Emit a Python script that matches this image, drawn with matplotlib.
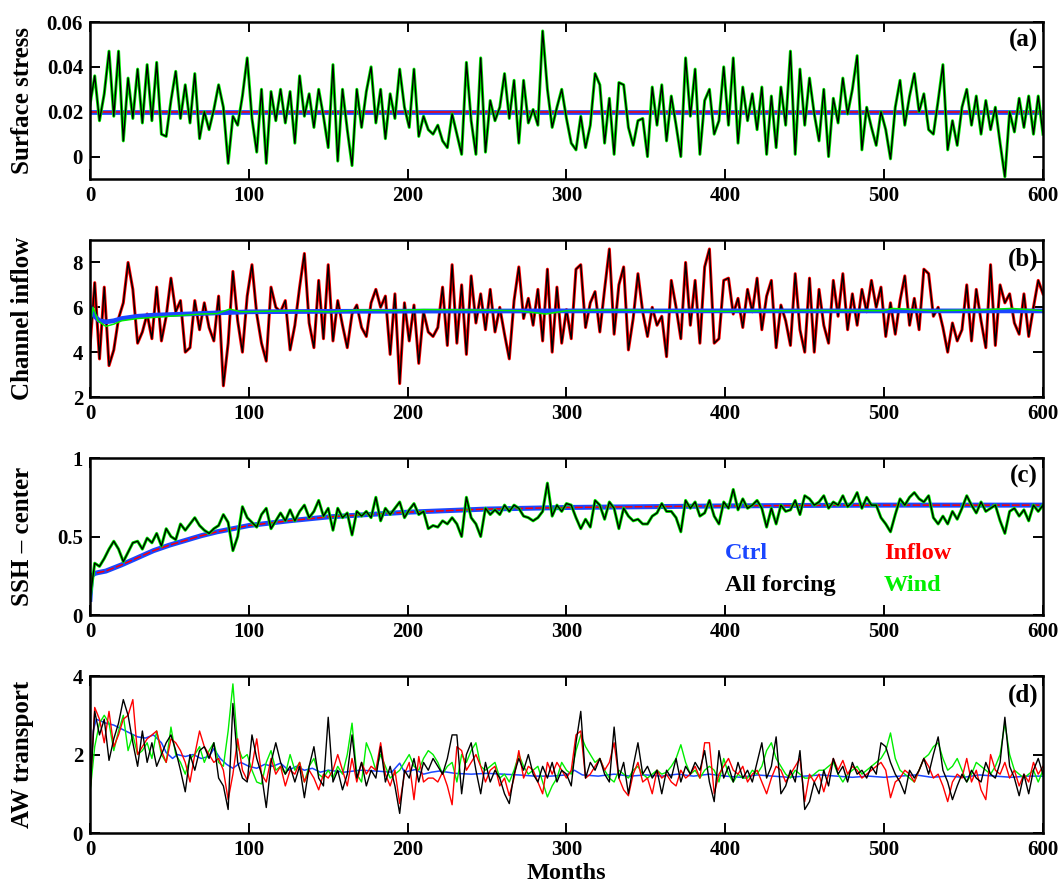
import numpy as np
import matplotlib
matplotlib.use('Agg')
import matplotlib.pyplot as plt

plt.rcParams['font.family'] = ['Liberation Serif', 'DejaVu Serif']
plt.rcParams['font.weight'] = 'bold'

# monthly samples every 3 months, 0..600
months = np.arange(0, 601, 3)

# --- (a) surface stress: wind and all forcing runs share the same forcing ---
stress_noisy = [
    0.023, 0.036, 0.016, 0.028, 0.047, 0.018, 0.047, 0.007, 0.035, 0.017,
    0.039, 0.015, 0.041, 0.016, 0.042, 0.010, 0.009, 0.025, 0.038, 0.017,
    0.032, 0.015, 0.037, 0.008, 0.020, 0.012, 0.021, 0.032, 0.022, -0.003,
    0.018, 0.014, 0.027, 0.044, 0.017, 0.002, 0.030, -0.003, 0.029, 0.016,
    0.030, 0.015, 0.029, 0.006, 0.036, 0.018, 0.028, 0.013, 0.030, 0.018,
    0.004, 0.041, -0.002, 0.030, 0.012, -0.004, 0.030, 0.013, 0.029, 0.040,
    0.015, 0.030, 0.008, 0.028, 0.017, 0.039, 0.022, 0.013, 0.039, 0.009,
    0.018, 0.012, 0.010, 0.014, 0.007, 0.004, 0.019, 0.010, 0.001, 0.042,
    0.016, 0.001, 0.044, 0.002, 0.025, 0.016, 0.022, 0.037, 0.017, 0.034,
    0.006, 0.034, 0.015, 0.021, 0.014, 0.056, 0.030, 0.013, 0.022, 0.030,
    0.017, 0.006, 0.003, 0.018, 0.004, 0.014, 0.037, 0.032, 0.006, 0.026,
    0.001, 0.033, 0.032, 0.013, 0.005, 0.016, 0.017, 0.000, 0.031, 0.014,
    0.032, 0.007, 0.027, 0.014, 0.000, 0.044, 0.018, 0.039, 0.001, 0.025,
    0.030, 0.010, 0.016, 0.040, 0.014, 0.044, 0.006, 0.031, 0.016, 0.028,
    0.012, 0.031, 0.001, 0.027, 0.004, 0.031, 0.014, 0.047, 0.001, 0.039,
    0.014, 0.035, 0.019, 0.007, 0.030, 0.000, 0.026, 0.015, 0.035, 0.019,
    0.030, 0.045, 0.003, 0.022, 0.013, 0.005, 0.020, 0.012, -0.001, 0.022,
    0.034, 0.014, 0.027, 0.037, 0.020, 0.028, 0.012, 0.010, 0.025, 0.041,
    0.003, 0.016, 0.005, 0.022, 0.030, 0.014, 0.027, 0.010, 0.025, 0.012,
    0.022, 0.006, -0.009, 0.020, 0.011, 0.026, 0.013, 0.027, 0.010, 0.027,
    0.010,
]
stress_const_x = [0, 600]
stress_const = [0.02, 0.02]

# --- (b) channel inflow ---
inflow_noisy = [
    4.2, 7.1, 3.7, 6.9, 3.4, 4.1, 5.5, 6.2, 8.0, 6.8,
    4.4, 4.9, 5.7, 4.6, 6.9, 4.5, 5.6, 7.3, 5.8, 6.3,
    4.0, 4.2, 6.3, 5.0, 6.2, 5.1, 4.5, 6.5, 2.5, 4.4,
    7.6, 5.4, 4.0, 6.5, 7.9, 5.7, 4.4, 3.6, 6.9, 6.0,
    5.8, 6.3, 4.1, 5.2, 6.9, 8.4, 5.3, 4.2, 7.2, 4.6,
    7.9, 4.5, 6.3, 5.2, 4.2, 5.7, 6.1, 5.1, 4.7, 6.2,
    6.8, 6.0, 6.5, 3.9, 6.6, 2.6, 6.2, 4.5, 6.1, 3.5,
    5.8, 4.9, 4.7, 5.1, 6.9, 4.3, 7.9, 4.4, 7.0, 3.9,
    7.4, 5.3, 6.6, 5.0, 6.8, 4.9, 6.0, 4.8, 3.7, 6.3,
    7.8, 5.5, 6.4, 5.2, 6.8, 4.5, 7.7, 4.0, 6.9, 4.4,
    5.9, 4.6, 7.7, 7.9, 5.1, 6.2, 6.7, 4.9, 6.8, 8.6,
    4.8, 7.0, 7.8, 4.1, 5.5, 7.5, 5.8, 4.7, 6.0, 5.2,
    5.6, 3.8, 7.2, 6.0, 4.6, 8.0, 5.2, 7.2, 4.4, 7.8,
    8.6, 4.4, 4.6, 7.2, 7.3, 5.7, 6.4, 5.1, 6.8, 5.8,
    7.3, 5.0, 6.5, 7.2, 4.2, 6.1, 5.4, 4.3, 7.5, 5.0,
    4.0, 7.3, 4.0, 6.8, 5.2, 4.4, 7.2, 5.6, 7.5, 5.0,
    6.6, 5.2, 6.8, 5.8, 7.2, 6.0, 6.9, 4.7, 6.2, 4.8,
    6.3, 7.4, 5.2, 6.4, 5.0, 7.7, 7.5, 5.6, 6.0, 5.1,
    4.0, 5.3, 4.5, 5.0, 7.0, 4.5, 6.8, 5.4, 4.2, 7.9,
    4.3, 7.0, 6.2, 6.6, 5.3, 4.8, 6.6, 4.7, 6.0, 7.2,
    6.6,
]
inflow_ctrl_x = [0, 3, 6, 10, 15, 20, 30, 40, 60, 80, 100, 150, 200, 300, 400, 500, 600]
inflow_ctrl = [6.0, 5.6, 5.4, 5.35, 5.4, 5.5, 5.6, 5.65, 5.7, 5.75, 5.8, 5.82, 5.83,
               5.84, 5.84, 5.84, 5.84]
inflow_wind_x = [0, 2, 5, 10, 15, 20, 30, 40, 50, 60, 70, 80, 88, 95, 110, 130, 150, 170,
                 190, 210, 240, 270, 287, 300, 330, 360, 400, 430, 460, 500, 505, 530,
                 560, 580, 600]
inflow_wind = [5.2, 6.0, 5.4, 5.15, 5.25, 5.4, 5.5, 5.55, 5.6, 5.65, 5.7, 5.72, 5.92, 5.8,
               5.82, 5.85, 5.8, 5.88, 5.85, 5.9, 5.88, 5.85, 5.7, 5.85, 5.88, 5.85, 5.82,
               5.85, 5.86, 5.85, 5.95, 5.85, 5.88, 5.95, 5.85]

# --- (c) SSH center ---
ssh_noisy = [
    0.10, 0.33, 0.31, 0.36, 0.42, 0.47, 0.42, 0.34, 0.40, 0.46,
    0.47, 0.42, 0.49, 0.46, 0.52, 0.44, 0.55, 0.50, 0.48, 0.58,
    0.54, 0.58, 0.62, 0.57, 0.54, 0.52, 0.55, 0.57, 0.64, 0.59,
    0.41, 0.50, 0.69, 0.62, 0.59, 0.56, 0.64, 0.68, 0.55, 0.60,
    0.65, 0.60, 0.67, 0.60, 0.66, 0.70, 0.62, 0.66, 0.73, 0.63,
    0.68, 0.54, 0.68, 0.62, 0.65, 0.51, 0.66, 0.63, 0.66, 0.62,
    0.75, 0.60, 0.68, 0.64, 0.68, 0.72, 0.62, 0.67, 0.71, 0.64,
    0.66, 0.55, 0.57, 0.56, 0.60, 0.58, 0.62, 0.58, 0.50, 0.75,
    0.62, 0.58, 0.50, 0.68, 0.64, 0.67, 0.64, 0.70, 0.66, 0.70,
    0.68, 0.63, 0.62, 0.60, 0.62, 0.66, 0.84, 0.63, 0.70, 0.66,
    0.71, 0.70, 0.62, 0.55, 0.61, 0.56, 0.73, 0.70, 0.61, 0.72,
    0.68, 0.55, 0.68, 0.63, 0.60, 0.61, 0.58, 0.58, 0.63, 0.65,
    0.71, 0.66, 0.66, 0.62, 0.53, 0.73, 0.68, 0.72, 0.63, 0.65,
    0.73, 0.63, 0.58, 0.72, 0.68, 0.80, 0.67, 0.74, 0.68, 0.70,
    0.73, 0.68, 0.56, 0.68, 0.58, 0.70, 0.66, 0.67, 0.73, 0.64,
    0.76, 0.74, 0.70, 0.72, 0.76, 0.68, 0.72, 0.70, 0.76, 0.69,
    0.72, 0.78, 0.68, 0.75, 0.70, 0.70, 0.62, 0.58, 0.53, 0.64,
    0.74, 0.70, 0.75, 0.78, 0.74, 0.72, 0.76, 0.62, 0.58, 0.63,
    0.58, 0.66, 0.61, 0.68, 0.76, 0.70, 0.65, 0.72, 0.66, 0.68,
    0.70, 0.60, 0.52, 0.66, 0.68, 0.63, 0.67, 0.60, 0.70, 0.66,
    0.70,
]
ssh_ctrl_x = [0, 1, 3, 5, 10, 20, 30, 40, 50, 60, 70, 80, 90, 100, 125, 150, 175, 200,
              250, 300, 350, 400, 450, 500, 550, 600]
ssh_ctrl = [0.10, 0.25, 0.265, 0.27, 0.28, 0.32, 0.365, 0.41, 0.445, 0.475, 0.505, 0.53,
            0.55, 0.57, 0.60, 0.625, 0.64, 0.655, 0.675, 0.685, 0.69, 0.695, 0.698, 0.70,
            0.70, 0.70]

# --- (d) AW transport ---
aw_all = [
    1.0, 3.1, 2.5, 2.9, 1.85, 2.4, 2.8, 3.4, 3.0, 2.3,
    1.7, 2.6, 1.8, 2.3, 1.7, 2.0, 2.3, 2.5, 2.1, 1.6,
    1.05, 2.0, 1.6, 2.1, 2.2, 1.9, 2.3, 1.4, 1.2, 0.6,
    3.3, 1.8, 1.4, 1.3, 2.5, 1.9, 1.5, 0.65, 1.8, 2.3,
    1.8, 1.5, 1.7, 1.3, 1.7, 0.9, 1.7, 2.2, 1.4, 1.2,
    2.95, 1.3, 1.6, 1.1, 1.5, 2.5, 1.4, 1.8, 1.2, 1.6,
    1.4, 2.2, 1.3, 1.7, 1.2, 0.5, 1.6, 1.4, 1.9, 1.3,
    1.8, 1.6, 1.9, 1.7, 1.5, 1.9, 2.5, 2.5, 1.0, 2.0,
    2.3, 1.6, 1.0, 1.8, 1.3, 1.6, 1.4, 1.0, 0.75, 1.5,
    1.9, 1.6, 2.0, 1.5, 1.3, 1.7, 1.4, 1.8, 1.3, 1.6,
    1.5, 1.2, 2.3, 3.1, 1.4, 1.8, 1.6, 1.9, 1.5, 1.3,
    2.7, 1.4, 1.8, 1.0, 1.7, 2.3, 1.5, 1.7, 1.4, 1.6,
    1.0, 1.6, 1.4, 1.9, 1.3, 1.7, 1.5, 1.8, 1.6, 2.1,
    1.3, 0.8, 2.1, 1.4, 1.7, 1.3, 1.8, 1.4, 1.6, 1.3,
    1.8, 2.3, 1.4, 1.7, 2.45, 1.0, 1.2, 1.6, 1.3, 2.1,
    0.6, 0.8, 1.3, 1.0, 1.6, 1.2, 1.9, 1.5, 1.7, 1.3,
    1.8, 1.5, 1.6, 1.4, 1.7, 1.5, 2.3, 2.2, 1.8, 1.5,
    1.3, 1.0, 1.6, 1.4, 1.6, 1.9, 1.5, 2.0, 2.45, 1.6,
    1.3, 0.85, 1.2, 1.5, 1.3, 1.6, 1.4, 1.3, 1.8, 1.5,
    1.4, 1.8, 2.95, 1.7, 1.4, 0.95, 1.5, 1.0, 1.6, 1.9,
    1.5,
]
aw_inflow = [
    1.0, 3.2, 2.9, 2.3, 3.1, 2.2, 2.5, 2.9, 3.0, 3.4,
    2.0, 2.2, 2.4, 2.5, 2.6, 2.1, 1.8, 2.4, 2.3, 2.1,
    1.8, 1.3, 2.0, 2.6, 2.2, 2.0, 1.8, 1.9, 1.6, 0.85,
    1.5, 2.4, 1.6, 1.35, 1.7, 2.4, 1.5, 1.3, 1.9, 1.5,
    1.7, 1.2, 1.6, 1.5, 1.8, 1.3, 1.6, 1.4, 1.1, 1.5,
    1.4, 1.6, 2.0, 1.6, 1.2, 1.9, 1.3, 1.8, 1.5, 1.7,
    1.6, 2.3, 1.5, 1.2, 1.6, 0.75, 1.5, 1.8, 0.85, 1.95,
    1.3, 1.4, 1.4, 1.3, 1.55, 1.2, 0.72, 2.2, 2.1, 1.6,
    1.8, 2.0, 1.7, 1.3, 1.6, 1.7, 1.2, 1.4, 0.95, 1.4,
    2.1, 1.4, 1.7, 1.6, 1.3, 1.0, 1.8, 1.5, 1.8, 1.6,
    1.4, 1.6, 2.5, 2.6, 1.4, 1.5, 1.7, 1.9, 1.6, 1.8,
    2.3, 1.4, 1.1, 0.95, 1.5, 1.8, 1.3, 1.4, 1.0, 1.6,
    1.4, 1.5, 1.3, 1.2, 1.6, 1.4, 1.5, 1.7, 1.4, 2.3,
    2.3, 1.0, 1.5, 1.7, 1.9, 1.6, 1.5, 1.7, 1.3, 1.5,
    1.6, 1.3, 1.0, 1.4, 1.7, 1.6, 1.3, 1.5, 1.7, 1.9,
    0.8, 1.5, 1.3, 1.5, 1.05, 1.5, 1.9, 1.6, 1.85, 1.5,
    1.7, 1.6, 1.4, 1.5, 1.6, 1.7, 1.8, 1.6, 0.9, 1.3,
    1.4, 1.6, 1.5, 1.3, 1.6, 1.9, 1.7, 1.4, 1.5, 1.2,
    0.8, 1.3, 1.5, 1.4, 1.9, 1.3, 1.6, 1.1, 0.85, 2.0,
    1.6, 1.5, 1.8, 1.4, 1.6, 1.2, 1.5, 1.3, 1.8, 1.5,
    1.7,
]
aw_wind = [
    1.0, 2.2, 2.8, 3.0, 2.8, 2.1, 2.6, 3.0, 2.1, 2.5,
    2.0, 2.1, 2.3, 1.9, 2.6, 2.0, 1.8, 2.7, 2.0, 1.8,
    1.5, 1.9, 2.0, 2.2, 1.8, 2.1, 2.3, 1.8, 1.7, 2.6,
    3.8, 2.2, 1.9, 2.0, 1.6, 1.3, 1.25, 1.8, 2.1, 1.6,
    1.7, 1.5, 2.0, 1.6, 1.8, 1.3, 1.7, 1.9, 1.5, 1.4,
    1.6, 1.4, 1.7, 1.5, 2.0, 2.8, 1.5, 1.3, 2.3, 2.0,
    1.6, 2.0, 1.7, 1.4, 1.5, 1.6, 1.8, 2.0, 1.7, 1.6,
    1.9, 2.1, 2.0, 1.8, 1.5, 1.7, 1.8, 1.3, 2.0, 1.8,
    2.1, 2.3, 1.7, 1.6, 1.7, 1.8, 1.4, 1.5, 1.3, 1.6,
    2.0, 1.7, 1.5, 1.6, 1.7, 1.3, 0.92, 1.2, 1.4, 1.8,
    1.6, 1.5, 2.1, 2.5, 2.2, 2.0, 1.8, 1.9, 1.6, 1.4,
    1.3, 1.6, 1.5, 1.4, 1.6, 1.7, 1.5, 1.4, 1.5, 1.6,
    1.5, 1.55, 1.7, 1.9, 2.25, 1.8, 1.5, 1.6, 1.4, 1.6,
    1.7, 1.6, 1.3, 1.9, 1.5, 1.3, 1.5, 1.4, 1.4, 1.6,
    1.5, 1.7, 2.1, 2.3, 1.9, 1.7, 1.5, 1.4, 1.6, 1.5,
    1.4, 1.4, 1.5, 1.6, 1.6, 1.7, 1.8, 1.5, 1.3, 1.5,
    1.6, 1.7, 1.5, 1.6, 1.7, 1.8, 1.9, 2.1, 2.55, 1.9,
    1.6, 1.5, 1.4, 1.3, 1.6, 1.9, 2.0, 2.2, 2.3, 1.9,
    1.6, 1.7, 1.9, 1.6, 1.3, 1.5, 1.8, 1.7, 1.6, 1.5,
    1.7, 2.0, 2.8, 2.0, 1.6, 1.5, 1.4, 1.5, 1.6, 1.3,
    1.6,
]
aw_ctrl_x = [0, 2, 4, 10, 15, 20, 25, 30, 35, 40, 45, 48, 52, 55, 60, 65, 70, 75, 78, 82,
             86, 90, 95, 100, 105, 110, 115, 120, 125, 130, 135, 140, 145, 150, 160, 170,
             180, 190, 195, 198, 205, 210, 215, 220, 230, 240, 250, 260, 270, 280, 290,
             300, 305, 310, 320, 330, 340, 350, 360, 370, 380, 390, 400, 410, 420, 430,
             440, 450, 460, 470, 480, 490, 500, 510, 520, 530, 540, 550, 560, 570, 580,
             590, 600]
aw_ctrl = [1.0, 2.6, 2.9, 2.8, 2.75, 2.65, 2.55, 2.45, 2.42, 2.5, 2.3, 2.05, 1.9, 2.0,
           1.95, 2.0, 1.9, 1.95, 2.15, 1.9, 1.75, 1.65, 1.8, 1.7, 1.65, 1.75, 1.7, 1.78,
           1.6, 1.7, 1.6, 1.65, 1.55, 1.6, 1.55, 1.6, 1.58, 1.55, 1.78, 1.55, 1.62, 1.5,
           1.55, 1.58, 1.52, 1.5, 1.52, 1.5, 1.48, 1.45, 1.45, 1.48, 1.6, 1.48, 1.45, 1.5,
           1.45, 1.48, 1.45, 1.5, 1.45, 1.5, 1.45, 1.42, 1.48, 1.45, 1.42, 1.45, 1.48,
           1.45, 1.42, 1.45, 1.42, 1.45, 1.48, 1.42, 1.45, 1.42, 1.48, 1.45, 1.42, 1.45,
           1.45]

# axis settings per panel
ylabels = ['Surface stress', 'Channel inflow', 'SSH \u2013 center', 'AW transport']
panel_tags = ['(a)', '(b)', '(c)', '(d)']
ylims = [(-0.01, 0.06), (2, 9), (0, 1), (0, 4)]
yticks = [[0, 0.02, 0.04, 0.06], [2, 4, 6, 8], [0, 0.5, 1], [0, 2, 4]]
ytick_labels = [['0', '0.02', '0.04', '0.06'], ['2', '4', '6', '8'], ['0', '0.5', '1'],
                ['0', '2', '4']]
xticks = [0, 100, 200, 300, 400, 500, 600]

c_blue = '#1a46ff'
c_red = '#ff0000'
c_green = '#00ee00'
c_black = '#000000'

fig = plt.figure(figsize=(10.62, 8.88), dpi=100)
rects = [
    [0.0847, 0.7984, 0.8974, 0.1768],
    [0.0847, 0.5529, 0.8974, 0.1768],
    [0.0847, 0.3074, 0.8974, 0.1768],
    [0.0847, 0.0619, 0.8974, 0.1768],
]
axes = [fig.add_axes(r) for r in rects]

# (a)
ax = axes[0]
ax.plot(stress_const_x, stress_const, color=c_blue, lw=3.4)
ax.plot(stress_const_x, stress_const, color=c_red, lw=1.1)
ax.plot(months, stress_noisy, color=c_green, lw=2.2)
ax.plot(months, stress_noisy, color=c_black, lw=1.0)

# (b)
ax = axes[1]
ax.plot(months, inflow_noisy, color=c_red, lw=2.2)
ax.plot(months, inflow_noisy, color=c_black, lw=1.0)
ax.plot(inflow_ctrl_x, inflow_ctrl, color=c_blue, lw=3.4)
ax.plot(inflow_wind_x, inflow_wind, color=c_green, lw=1.1)

# (c)
ax = axes[2]
ax.plot(ssh_ctrl_x, ssh_ctrl, color=c_blue, lw=3.6)
ax.plot(ssh_ctrl_x, ssh_ctrl, color=c_red, lw=1.1, dashes=(5, 1.5))
ax.plot(months, ssh_noisy, color=c_green, lw=2.2)
ax.plot(months, ssh_noisy, color=c_black, lw=1.0)
leg_kw = dict(fontsize=17.5, fontweight='bold', va='center', ha='left')
ax.text(400, 0.395, 'Ctrl', color=c_blue, **leg_kw)
ax.text(500, 0.395, 'Inflow', color=c_red, **leg_kw)
ax.text(400, 0.19, 'All forcing', color=c_black, **leg_kw)
ax.text(500, 0.19, 'Wind', color=c_green, **leg_kw)

# (d)
ax = axes[3]
ax.plot(aw_ctrl_x, aw_ctrl, color=c_blue, lw=1.1)
ax.plot(months, aw_wind, color=c_green, lw=1.0)
ax.plot(months, aw_inflow, color=c_red, lw=1.0)
ax.plot(months, aw_all, color=c_black, lw=1.0)
ax.set_xlabel('Months', fontsize=17.5, fontweight='bold', labelpad=2)

for i, ax in enumerate(axes):
    ax.set_xlim(0, 600)
    ax.set_ylim(*ylims[i])
    ax.set_xticks(xticks)
    ax.set_xticklabels([str(t) for t in xticks], fontsize=15, fontweight='bold')
    ax.set_yticks(yticks[i])
    ax.set_yticklabels(ytick_labels[i], fontsize=15, fontweight='bold')
    ax.tick_params(direction='in', length=7, width=1.4, top=True, right=True, pad=5)
    for s in ax.spines.values():
        s.set_linewidth(1.8)
    ax.set_ylabel(ylabels[i], fontsize=18, fontweight='bold', ha='center', va='center')
    ax.yaxis.set_label_coords(-0.0706, 0.5)
    ax.text(0.995, 0.88, panel_tags[i], transform=ax.transAxes, ha='right', va='center',
            fontsize=18, fontweight='bold')

fig.savefig('out.png', dpi=100)
